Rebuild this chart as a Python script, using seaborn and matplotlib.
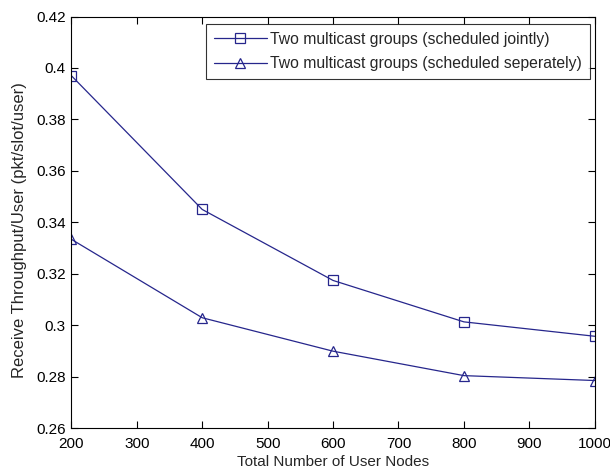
import numpy as np
import pandas as pd
import matplotlib
matplotlib.use("Agg")
import matplotlib.pyplot as plt
import seaborn as sns

# ── DATOS ──────────────────────────────────────────────
nodos = [200, 400, 600, 800, 1000]
conjunto = [0.397, 0.345, 0.3174, 0.3013, 0.2957]
separado = [0.3334, 0.3029, 0.2899, 0.2804, 0.2785]
etiquetas = ["Two multicast groups (scheduled jointly)",
             "Two multicast groups (scheduled seperately)"]
yticks = [0.26, 0.28, 0.3, 0.32, 0.34, 0.36, 0.38, 0.4, 0.42]
ytick_labels = ["0.26", "0.28", "0.3", "0.32", "0.34", "0.36", "0.38", "0.4", "0.42"]
xticks = [200, 300, 400, 500, 600, 700, 800, 900, 1000]

color = "#26268c"

df = pd.DataFrame({
    "nodos": nodos * 2,
    "valor": conjunto + separado,
    "serie": [etiquetas[0]] * len(nodos) + [etiquetas[1]] * len(nodos),
})

sns.set_style("white")
plt.rcParams["font.family"] = ["Liberation Sans", "DejaVu Sans"]
plt.rcParams["font.size"] = 11

fig = plt.figure(figsize=(6.10, 4.72), dpi=100)
ax = fig.add_axes([0.117, 0.093, 0.858, 0.872])

for etiqueta, marca in zip(etiquetas, ["s", "^"]):
    sub = df[df["serie"] == etiqueta]
    sns.lineplot(data=sub, x="nodos", y="valor", ax=ax, color=color,
                 linewidth=0.9, marker=marca, markersize=7.5,
                 markerfacecolor="none", markeredgecolor=color,
                 markeredgewidth=0.9, label=etiqueta)

ax.set_xlim(200, 1000)
ax.set_ylim(0.26, 0.42)
ax.set_xticks(xticks)
ax.set_yticks(yticks)
ax.set_yticklabels(ytick_labels)
ax.set_xlabel("Total Number of User Nodes", fontsize=11, labelpad=3)
ax.set_ylabel("Receive Throughput/User (pkt/slot/user)", fontsize=12)
ax.yaxis.set_label_coords(-0.085, 0.482)
ax.tick_params(direction="in", length=5, width=0.8, top=True, right=True,
               bottom=True, left=True, colors="black", labelsize=11)
ax.tick_params(axis="x", pad=6.5)
ax.tick_params(axis="y", pad=4)
for s in ax.spines.values():
    s.set_color("black")
    s.set_linewidth(0.8)

leg = ax.legend(loc="upper right", bbox_to_anchor=(0.9905, 0.982),
                frameon=True, fancybox=False, edgecolor="black",
                handlelength=3.4, handletextpad=0.2, borderpad=0.5,
                labelspacing=0.6, borderaxespad=0, fontsize=11.3)
leg.get_frame().set_linewidth(0.8)

plt.savefig("out.png", dpi=100)
